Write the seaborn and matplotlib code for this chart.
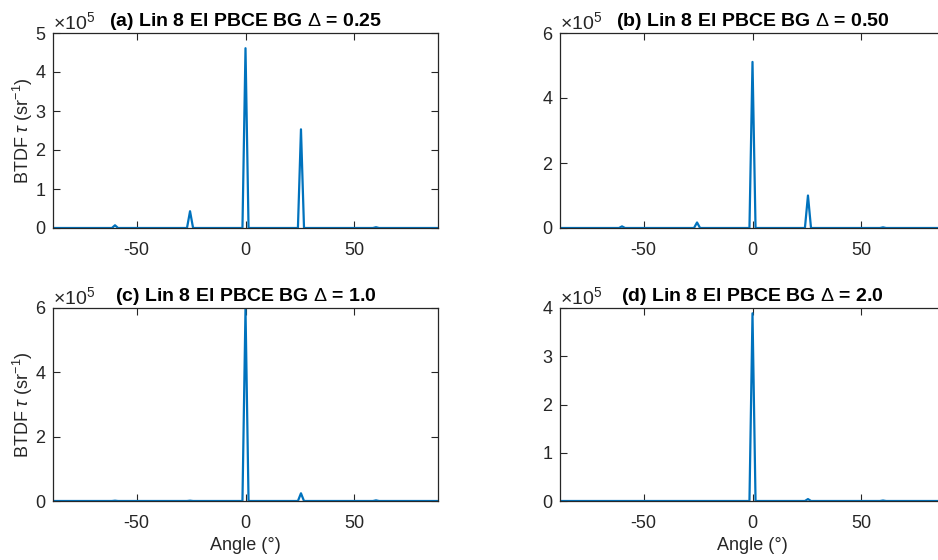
import numpy as np
import pandas as pd
import matplotlib
matplotlib.use("Agg")
import matplotlib.pyplot as plt
from matplotlib.ticker import ScalarFormatter
import seaborn as sns

# Diffraction-order peak positions (deg) and BTDF peak heights (sr^-1)
peak_angles = [-60.0, -25.5, 0.0, 25.5, 60.0]
btdf_a = [0.07e5, 0.43e5, 4.61e5, 2.53e5, 0.02e5]
btdf_b = [0.05e5, 0.17e5, 5.11e5, 1.00e5, 0.02e5]
btdf_c = [0.01e5, 0.01e5, 5.98e5, 0.24e5, 0.02e5]
btdf_d = [0.00e5, 0.00e5, 3.89e5, 0.04e5, 0.01e5]

titles = [
    r"(a) Lin 8 El PBCE BG $\Delta$ = 0.25",
    r"(b) Lin 8 El PBCE BG $\Delta$ = 0.50",
    r"(c) Lin 8 El PBCE BG $\Delta$ = 1.0",
    r"(d) Lin 8 El PBCE BG $\Delta$ = 2.0",
]
ymax = [5e5, 6e5, 6e5, 4e5]
ystep = [1e5, 2e5, 2e5, 1e5]
xticks = [-50, 0, 50]
angle_range = (-88.5, 88.5)
half_width = 1.4


def profile(values):
    """Angle/BTDF polyline: flat baseline with a narrow spike at each order."""
    xs, ys = [angle_range[0]], [0.0]
    for a, v in zip(peak_angles, values):
        xs += [a - half_width, a, a + half_width]
        ys += [0.0, v, 0.0]
    xs.append(angle_range[1])
    ys.append(0.0)
    return pd.DataFrame({"angle": xs, "btdf": ys})


sns.set_style("ticks")
plt.rcParams["font.family"] = ["Liberation Sans", "DejaVu Sans"]
plt.rcParams["mathtext.fontset"] = "custom"
plt.rcParams["mathtext.rm"] = "Liberation Sans"
plt.rcParams["mathtext.it"] = "Liberation Sans:italic"
plt.rcParams["mathtext.bf"] = "Liberation Sans:bold"
plt.rcParams["axes.unicode_minus"] = False

ink = "#262626"
line_color = "#0072BD"

fig = plt.figure(figsize=(9.38, 5.6), dpi=100)
W, H = 938, 560
boxes = [
    (53, 33, 385, 195),
    (560, 33, 385, 195),
    (53, 308, 385, 193),
    (560, 308, 385, 193),
]
series = [btdf_a, btdf_b, btdf_c, btdf_d]

for i, (box, vals) in enumerate(zip(boxes, series)):
    x0, y0, w, h = box
    ax = fig.add_axes([x0 / W, 1 - (y0 + h) / H, w / W, h / H])
    df = profile(vals)
    sns.lineplot(data=df, x="angle", y="btdf", ax=ax, sort=False,
                 color=line_color, linewidth=1.6, estimator=None)
    ax.set_xlim(*angle_range)
    ax.set_ylim(0, ymax[i])
    ax.set_xticks(xticks)
    ax.set_yticks(np.arange(0, ymax[i] + 1, ystep[i]))
    fmt = ScalarFormatter(useMathText=True)
    fmt.set_powerlimits((0, 0))
    ax.yaxis.set_major_formatter(fmt)
    ax.yaxis.get_offset_text().set_fontsize(14)
    ax.yaxis.get_offset_text().set_color("#555555")

    for s in ax.spines.values():
        s.set_visible(True)
        s.set_color(ink)
        s.set_linewidth(0.9)
    ax.tick_params(direction="in", top=True, right=True, length=5,
                   width=0.8, color=ink, labelcolor=ink, labelsize=13)
    ax.tick_params(axis="x", pad=10)
    ax.tick_params(axis="y", pad=5)

    ax.set_title(titles[i], fontsize=14, fontweight="bold", color="black", pad=5)
    if i in (0, 2):
        ax.set_ylabel(r"BTDF $\tau$ (sr$^{-1}$)", fontsize=13, color=ink, labelpad=0)
    else:
        ax.set_ylabel("")
    if i in (2, 3):
        ax.set_xlabel("Angle (\u00b0)", fontsize=13, color=ink, labelpad=4)
    else:
        ax.set_xlabel("")

fig.savefig("out.png", dpi=100)
